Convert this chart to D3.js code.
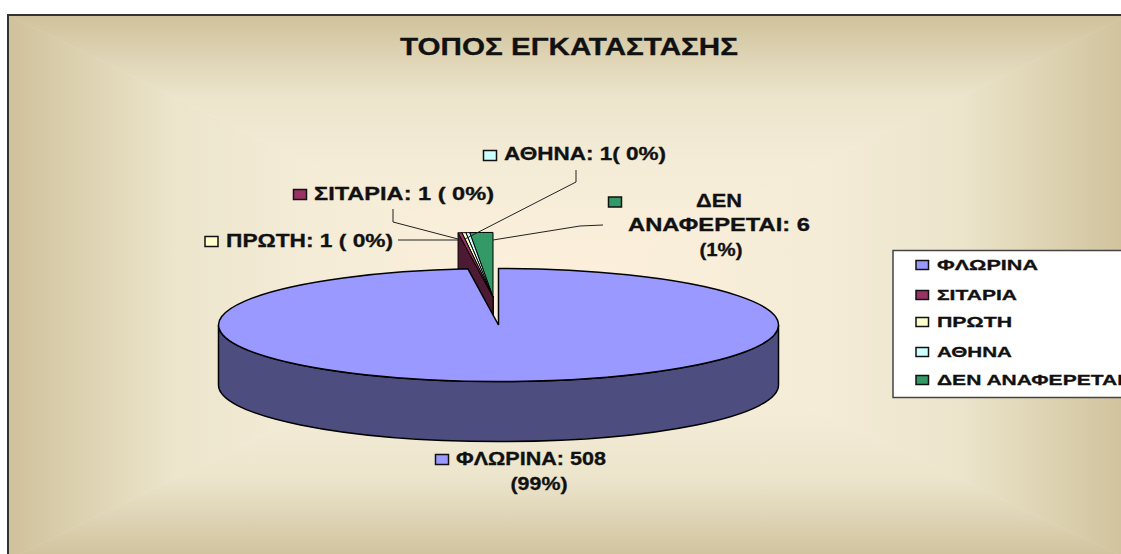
<!DOCTYPE html>
<html><head><meta charset="utf-8">
<script src="https://cdn.jsdelivr.net/npm/d3@7/dist/d3.min.js"></script>
<style>html,body{margin:0;padding:0;background:#fff;overflow:hidden}svg{display:block}
text{font-family:"Liberation Sans",Arial,sans-serif;font-weight:bold;fill:#111;stroke:#111;stroke-width:.3}</style>
</head><body><svg id="c" width="1121" height="554"></svg>
<script>
const title = "ΤΟΠΟΣ ΕΓΚΑΤΑΣΤΑΣΗΣ";
const categories = ["ΦΛΩΡΙΝΑ","ΣΙΤΑΡΙΑ","ΠΡΩΤΗ","ΑΘΗΝΑ","ΔΕΝ ΑΝΑΦΕΡΕΤΑΙ"];
const values = [508,1,1,1,6];
const colors = ["#9999ff","#993366","#ffffcc","#ccffff","#339966"];
const darkColors = ["#4d4d80","#4d1a33","#808066","#668080","#1a4d33"];

const svg = d3.select("#c");
const defs = svg.append("defs");

// rectangular "from centre" background
const frame={x:8,y:15,x2:1130,y2:560}, bc=[560,288];
const stops=[[0,"#cfc19b"],[.13,"#dcd1b0"],[.3,"#ece5cc"],[.55,"#f4ecd7"],[1,"#fdf0dc"]];
function grad(id,x1,y1,x2,y2){
  const g=defs.append("linearGradient").attr("id",id).attr("gradientUnits","userSpaceOnUse")
   .attr("x1",x1).attr("y1",y1).attr("x2",x2).attr("y2",y2);
  stops.forEach(s=>g.append("stop").attr("offset",s[0]).attr("stop-color",s[1]));
}
grad("gt",0,frame.y,0,bc[1]);grad("gb",0,frame.y2,0,bc[1]);grad("gl",frame.x,0,bc[0],0);grad("gr",frame.x2,0,bc[0],0);
const tri=(pts,id)=>svg.append("polygon").attr("points",pts.map(p=>p.join(",")).join(" ")).attr("fill",`url(#${id})`).attr("stroke",`url(#${id})`).attr("stroke-width",.6);
const tl=[frame.x,frame.y],tr=[frame.x2,frame.y],bl=[frame.x,frame.y2],br=[frame.x2,frame.y2];
tri([tl,tr,bc],"gt");tri([bl,br,bc],"gb");tri([tl,bl,bc],"gl");tri([tr,br,bc],"gr");
svg.append("rect").attr("x",frame.x).attr("y",frame.y).attr("width",frame.x2-frame.x).attr("height",frame.y2-frame.y)
  .attr("fill","none").attr("stroke","#333").attr("stroke-width",2);

// stretched text, as in the reference
const lab=(x,y,t,len,a="start",fs=17.5)=>svg.append("text").attr("x",x).attr("y",y).attr("text-anchor",a)
  .attr("font-size",fs).attr("textLength",len).attr("lengthAdjust","spacingAndGlyphs").text(t);

lab(569,55,title,338,"middle",23.5);

// pie
const pie=d3.pie().sort(null).value(d=>d)(values);
const cx=498.5,cy=325,rx=280,ry=56.5,depth=60;
const exAx=493,exAy=297,exRx=320;
const ratio=ry/rx;
const arc=d3.arc().innerRadius(0);

function slicePoints(p,ax,ay,r){
  const pos=a=>[ax+r*Math.sin(a),ay-r*ratio*Math.cos(a)];
  return {apex:[ax,ay],a:pos(p.startAngle),b:pos(p.endAngle)};
}
const edge="#000";
const small=pie.slice(1).reverse();
const gs=svg.append("g");
small.forEach(p=>{
  const s=slicePoints(p,exAx,exAy,exRx);
  gs.append("polygon").attr("points",[s.apex,s.a,[s.a[0],s.a[1]+depth],[s.apex[0],s.apex[1]+depth]].map(d=>d.join(",")).join(" "))
    .attr("fill",darkColors[p.index]).attr("stroke",edge).attr("stroke-width",1);
  gs.append("path").attr("transform",`translate(${exAx},${exAy}) scale(1,${ratio})`)
    .attr("d",arc({startAngle:p.startAngle,endAngle:p.endAngle,outerRadius:exRx}))
    .attr("fill",colors[p.index]).attr("stroke",edge).attr("stroke-width",1).attr("vector-effect","non-scaling-stroke");
});

svg.append("path").attr("d",`M${cx-rx},${cy}A${rx},${ry} 0 0 0 ${cx+rx},${cy}L${cx+rx},${cy+depth}A${rx},${ry} 0 0 1 ${cx-rx},${cy+depth}Z`)
  .attr("fill",darkColors[0]).attr("stroke",edge).attr("stroke-width",1.5);
svg.append("path").attr("transform",`translate(${cx},${cy}) scale(1,${ratio})`)
  .attr("d",arc({startAngle:pie[0].startAngle,endAngle:pie[0].endAngle,outerRadius:rx}))
  .attr("fill",colors[0]).attr("stroke",edge).attr("stroke-width",1.5).attr("vector-effect","non-scaling-stroke");

// leaders
const line=d3.line();
[[[398,240],[458,240]],
 [[393,209],[393,222],[458,239]],
 [[576,170],[576,182],[465,239]],
 [[603,225],[580,226],[493,240]]].forEach(l=>
  svg.append("path").attr("d",line(l)).attr("fill","none").attr("stroke","#222").attr("stroke-width",1));

// data labels
const sw=(x,y,i,w=13,h=10)=>svg.append("rect").attr("x",x).attr("y",y).attr("width",w).attr("height",h)
  .attr("fill",colors[i]).attr("stroke","#111").attr("stroke-width",1.5);
sw(435.5,454.5,0);lab(456,464.5,`${categories[0]}: ${values[0]}`,150);lab(539,489.5,"(99%)",57,"middle");
sw(293.5,189.5,1);lab(314,199.5,`${categories[1]}: ${values[1]} ( 0%)`,180);
sw(205,236.5,2);lab(226,246.5,`${categories[2]}: ${values[2]} ( 0%)`,167);
sw(483.5,150.5,3);lab(504,159.5,`${categories[3]}: ${values[3]}( 0%)`,162);
sw(608.5,197,4);
lab(719,206.5,"ΔΕΝ",46,"middle");lab(719,230.5,`ΑΝΑΦΕΡΕΤΑΙ: ${values[4]}`,182,"middle");lab(721,255.5,"(1%)",43,"middle");

// legend
svg.append("rect").attr("x",893).attr("y",250.5).attr("width",240).attr("height",147)
  .attr("fill","#fff").attr("stroke","#444").attr("stroke-width",1.5);
const rowY=[265,295,322,352,380];
const legendW=[101,80,75,75,186];
categories.forEach((c,i)=>{
  sw(916,rowY[i]-4.5,i,12.5,9);
  lab(937,rowY[i]+4.5,c,legendW[i],"start",15);
});
</script></body></html>
